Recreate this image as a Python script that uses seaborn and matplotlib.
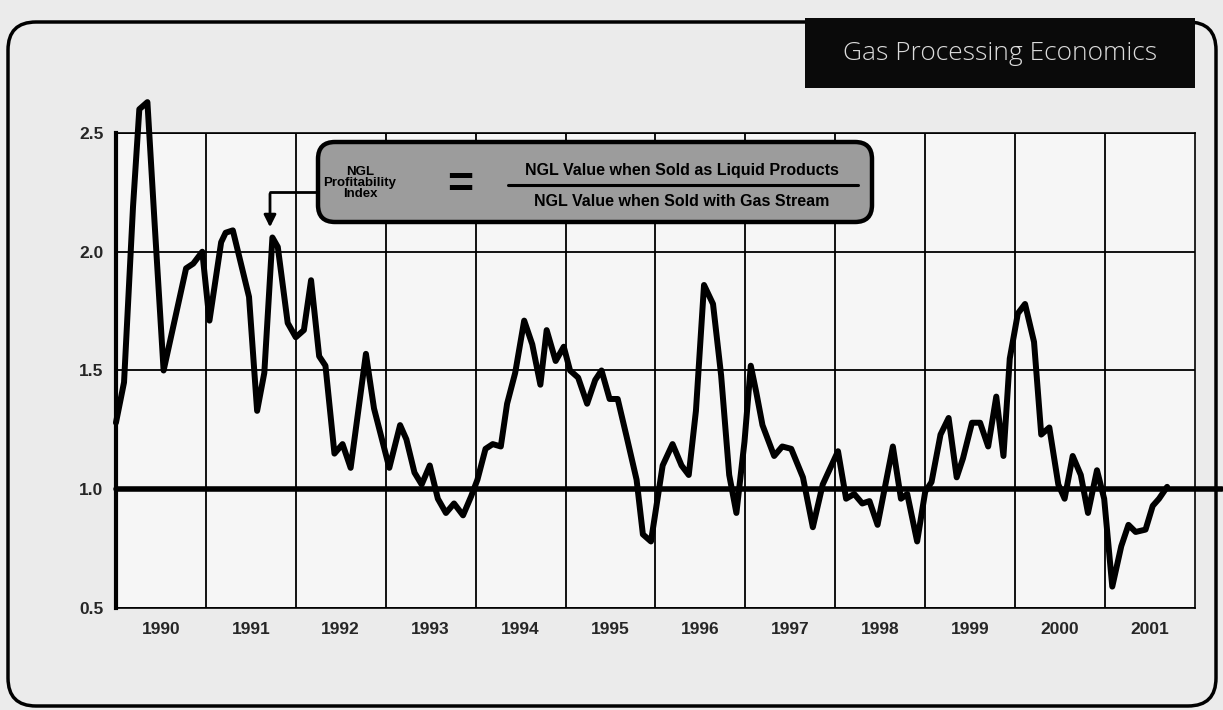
import matplotlib
matplotlib.use("Agg")
import matplotlib.pyplot as plt
from matplotlib import font_manager
from matplotlib.patches import FancyBboxPatch, Rectangle
import seaborn as sns
import pandas as pd

# ---- data ----
dates = [
    1990.00, 1990.09, 1990.19, 1990.26, 1990.35, 1990.43, 1990.53, 1990.78, 1990.86, 1990.96,
    1991.04, 1991.17, 1991.22, 1991.30, 1991.48, 1991.57, 1991.65, 1991.74, 1991.80, 1991.91,
    1992.00, 1992.09, 1992.17, 1992.26, 1992.33, 1992.43, 1992.52, 1992.61, 1992.78, 1992.87,
    1993.04, 1993.16, 1993.23, 1993.32, 1993.40, 1993.49, 1993.58, 1993.67, 1993.76, 1993.86,
    1993.95, 1994.02, 1994.11, 1994.19, 1994.28, 1994.35, 1994.44, 1994.54, 1994.63, 1994.72,
    1994.79, 1994.89, 1994.98, 1995.05, 1995.14, 1995.24, 1995.33, 1995.40, 1995.49, 1995.58,
    1995.68, 1995.79, 1995.86, 1995.95, 1996.08, 1996.19, 1996.29, 1996.37, 1996.45, 1996.54,
    1996.64, 1996.73, 1996.82, 1996.90, 1996.99, 1997.06, 1997.12, 1997.19, 1997.32, 1997.41,
    1997.51, 1997.64, 1997.75, 1997.86, 1998.03, 1998.12, 1998.21, 1998.30, 1998.38, 1998.47,
    1998.64, 1998.73, 1998.80, 1998.91, 1999.00, 1999.07, 1999.17, 1999.26, 1999.35, 1999.42,
    1999.52, 1999.61, 1999.70, 1999.79, 1999.87, 1999.94, 2000.03, 2000.11, 2000.21, 2000.29,
    2000.38, 2000.48, 2000.55, 2000.64, 2000.73, 2000.81, 2000.91, 2000.99, 2001.08, 2001.18,
    2001.26, 2001.34, 2001.45, 2001.53, 2001.60, 2001.69,
]
index_values = [
    1.28, 1.45, 2.19, 2.60, 2.63, 2.12, 1.50, 1.93, 1.95, 2.00,
    1.71, 2.04, 2.08, 2.09, 1.81, 1.33, 1.49, 2.06, 2.02, 1.70,
    1.64, 1.67, 1.88, 1.56, 1.52, 1.15, 1.19, 1.09, 1.57, 1.34,
    1.09, 1.27, 1.21, 1.07, 1.02, 1.10, 0.96, 0.90, 0.94, 0.89,
    0.97, 1.04, 1.17, 1.19, 1.18, 1.36, 1.49, 1.71, 1.61, 1.44,
    1.67, 1.54, 1.60, 1.50, 1.47, 1.36, 1.46, 1.50, 1.38, 1.38,
    1.22, 1.04, 0.81, 0.78, 1.10, 1.19, 1.10, 1.06, 1.33, 1.86,
    1.78, 1.48, 1.06, 0.90, 1.20, 1.52, 1.41, 1.27, 1.14, 1.18,
    1.17, 1.05, 0.84, 1.02, 1.16, 0.96, 0.98, 0.94, 0.95, 0.85,
    1.18, 0.96, 0.98, 0.78, 0.99, 1.03, 1.23, 1.30, 1.05, 1.13,
    1.28, 1.28, 1.18, 1.39, 1.14, 1.55, 1.74, 1.78, 1.62, 1.23,
    1.26, 1.02, 0.96, 1.14, 1.06, 0.90, 1.08, 0.96, 0.59, 0.76,
    0.85, 0.82, 0.83, 0.93, 0.96, 1.01,
]
years = [1990, 1991, 1992, 1993, 1994, 1995, 1996, 1997, 1998, 1999, 2000, 2001]
y_ticks = [0.5, 1.0, 1.5, 2.0, 2.5]
y_tick_labels = ["0.5", "1.0", "1.5", "2.0", "2.5"]
baseline = 1.0
title_text = "Gas Processing Economics"
index_label = "NGL\nProfitability\nIndex"
numerator_text = "NGL Value when Sold as Liquid Products"
denominator_text = "NGL Value when Sold with Gas Stream"

df = pd.DataFrame({"date": dates, "index": index_values})

# ---- fonts ----
sns.set_theme(style="white")
available = {f.name for f in font_manager.fontManager.ttflist}
narrow = "Liberation Sans Narrow" if "Liberation Sans Narrow" in available else "Liberation Sans"
plt.rcParams["font.family"] = [narrow, "DejaVu Sans"]

fig = plt.figure(figsize=(12.23, 7.10), dpi=100)
fig.patch.set_facecolor("#ebebeb")
ax = fig.add_axes([0.0948, 0.1437, 0.8823, 0.669])
ax.set_facecolor("#f6f6f6")

# grid
ax.set_xlim(1990, 2002)
ax.set_ylim(0.5, 2.5)
ax.set_xticks([y + 0.5 for y in years])
ax.set_xticklabels([str(y) for y in years], fontsize=12.5, fontweight="bold")
ax.set_xticks(list(range(1991, 2002)), minor=True)
ax.set_yticks(y_ticks)
ax.set_yticklabels(y_tick_labels, fontsize=12.5, fontweight="bold")
ax.tick_params(axis="both", which="both", length=0)
ax.tick_params(axis="x", pad=10)
ax.tick_params(axis="y", pad=9)
ax.grid(False)
ax.grid(True, which="minor", axis="x", color="black", linewidth=1.3)
ax.grid(True, which="major", axis="y", color="black", linewidth=1.3)
for s in ["top", "right", "bottom"]:
    ax.spines[s].set_visible(True)
    ax.spines[s].set_color("black")
    ax.spines[s].set_linewidth(1.2)
ax.spines["left"].set_visible(True)
ax.spines["left"].set_color("black")
ax.spines["left"].set_linewidth(3)

# thick 1.0 line extending past the right edge
ax.axhline(baseline, xmin=0, xmax=1.025, color="black", linewidth=4, clip_on=False, zorder=3)

# main series
sns.lineplot(data=df, x="date", y="index", ax=ax, color="black", linewidth=4.3,
             sort=False, estimator=None, zorder=4)
for ln in ax.lines:
    ln.set_clip_on(False)
ax.set_xlabel("")
ax.set_ylabel("")

# outer rounded frame
frame = FancyBboxPatch((0.08, 0.04), 12.08, 6.84,
                       boxstyle="round,pad=0,rounding_size=0.28",
                       transform=fig.dpi_scale_trans, facecolor="none",
                       edgecolor="black", linewidth=2.5, zorder=0)
fig.patches.append(frame)

# title box
tbox = Rectangle((8.05, 6.22), 3.90, 0.70, transform=fig.dpi_scale_trans,
                 facecolor="#0a0a0a", edgecolor="none", zorder=1)
fig.patches.append(tbox)
fig.text(10.00, 6.56, title_text, transform=fig.dpi_scale_trans, color="#dcdcdc",
         fontsize=19, ha="center", va="center", family=["Open Sans", "DejaVu Sans"],
         fontweight="light", zorder=2)

# formula box
fbox = FancyBboxPatch((3.18, 4.88), 5.54, 0.80,
                      boxstyle="round,pad=0,rounding_size=0.17",
                      transform=fig.dpi_scale_trans, facecolor="#9c9c9c",
                      edgecolor="black", linewidth=3.2, zorder=5)
fig.patches.append(fbox)
fig.text(3.60, 5.27, index_label, transform=fig.dpi_scale_trans, fontsize=9.5,
         fontweight="bold", ha="center", va="center", linespacing=0.9, color="black",
         zorder=6)
fig.text(4.60, 5.25, "=", transform=fig.dpi_scale_trans, fontsize=32,
         fontweight="bold", ha="center", va="center", color="black", zorder=6)
fig.text(6.82, 5.40, numerator_text, transform=fig.dpi_scale_trans, fontsize=11.5,
         fontweight="bold", ha="center", va="center", color="black", zorder=6)
fig.text(6.82, 5.09, denominator_text, transform=fig.dpi_scale_trans, fontsize=11.5,
         fontweight="bold", ha="center", va="center", color="black", zorder=6)
fig.add_artist(plt.Line2D([5.08, 8.58], [5.255, 5.255], transform=fig.dpi_scale_trans,
                          color="black", linewidth=2.2, zorder=6))

# pointer arrow from box to the 1991 peak
fig.add_artist(plt.Line2D([3.18, 2.70], [5.18, 5.18], transform=fig.dpi_scale_trans,
                          color="black", linewidth=2, zorder=6))
ax.annotate("", xy=(2.70, 4.80), xycoords=fig.dpi_scale_trans,
            xytext=(2.70, 5.19), textcoords=fig.dpi_scale_trans,
            arrowprops=dict(arrowstyle="-|>", color="black", lw=2, mutation_scale=18))

fig.savefig("out.png", dpi=100, facecolor=fig.get_facecolor())
